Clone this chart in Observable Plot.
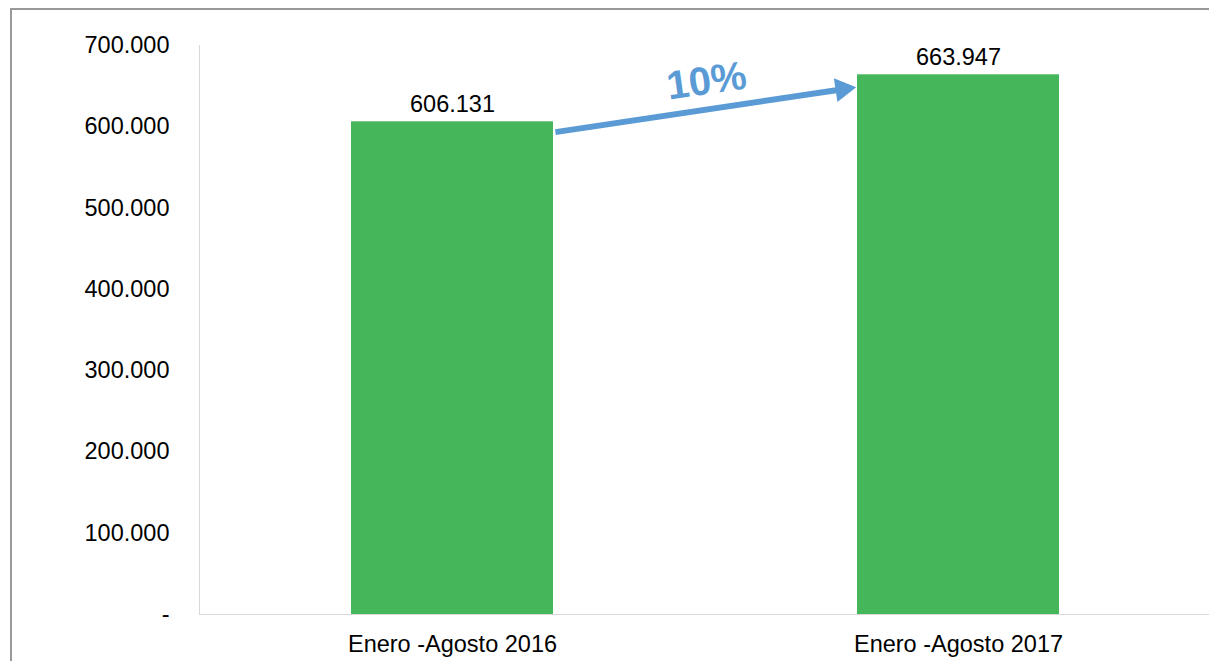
<!DOCTYPE html>
<html>
<head>
<meta charset="utf-8">
<script src="https://cdn.jsdelivr.net/npm/d3@7"></script>
<script src="https://cdn.jsdelivr.net/npm/@observablehq/plot@0.6"></script>
<style>
  html, body { margin: 0; padding: 0; background: #fff; overflow: hidden; }
  #wrap { position: relative; width: 1209px; height: 661px; }
  #frame { position: absolute; left: 10px; top: 8px; width: 1300px; height: 800px;
           border-top: 2px solid #999; border-left: 2px solid #999; pointer-events: none; }
  svg { display: block; }
</style>
</head>
<body>
<div id="wrap"><div id="chart"></div><div id="frame"></div></div>
<script>
// Data
const categories = ["Enero -Agosto 2016", "Enero -Agosto 2017"];
const values = [606131, 663947];
const yTicks = [0, 100000, 200000, 300000, 400000, 500000, 600000, 700000];
// Annotation (growth arrow)
const growthLabel = "10%";
const arrowY = [574520, 667400];
const arrowHeadY = 646240;
const growthLabelY = 656000;

const data = categories.map((c, i) => ({category: c, value: values[i]}));
const fmt = d => d === 0 ? "-" : d3.format(",")(d).replace(/,/g, ".");
const blue = "#5b9bd5";
const green = "#46b65a";
const font = "'Liberation Sans', Arial, sans-serif";

const chart = Plot.plot({
  width: 1209,
  height: 661,
  marginLeft: 199,
  marginRight: -3,
  marginTop: 45,
  marginBottom: 47,
  style: {fontFamily: font, fontSize: "23.5px", color: "#000", background: "transparent"},
  x: {domain: categories, paddingInner: 0.6, paddingOuter: 0.3, label: null},
  y: {domain: [0, 700000], label: null},
  marks: [
    Plot.barY(data, {x: "category", y: "value", fill: green}),
    Plot.frame({anchor: "left", stroke: "#d9d9d9"}),
    Plot.ruleY([0], {stroke: "#d9d9d9"}),
    Plot.axisY({ticks: yTicks, tickFormat: fmt, tickSize: 0, tickPadding: 30, label: null, fontSize: 23.5, fill: "#000"}),
    Plot.axisX({tickSize: 0, tickPadding: 21, label: null, fontSize: 23.5, fill: "#000"}),
    Plot.text(data, {x: "category", y: "value", text: d => fmt(d.value), lineAnchor: "bottom", dy: -10, fontSize: 23.5, fill: "#000"}),
    Plot.arrow([0], {
      x1: () => categories[0], y1: () => arrowY[0],
      x2: () => categories[1], y2: () => arrowY[1],
      insetStart: 104, insetEnd: 122, headLength: 0,
      stroke: blue, strokeWidth: 6, strokeLinecap: "butt"
    }),
    Plot.dot([0], {
      x: () => categories[1], y: () => arrowHeadY, dx: -116,
      symbol: "triangle", r: 8.9, rotate: 81.5, fill: blue, stroke: "none"
    }),
    Plot.text([growthLabel], {
      x: () => categories[0], y: () => growthLabelY, dx: 254,
      text: d => d, rotate: -8, fontSize: 40, fontWeight: "bold", fontFamily: font, fill: blue,
      textAnchor: "middle", lineAnchor: "middle"
    })
  ]
});
document.getElementById("chart").appendChild(chart);
</script>
</body>
</html>
